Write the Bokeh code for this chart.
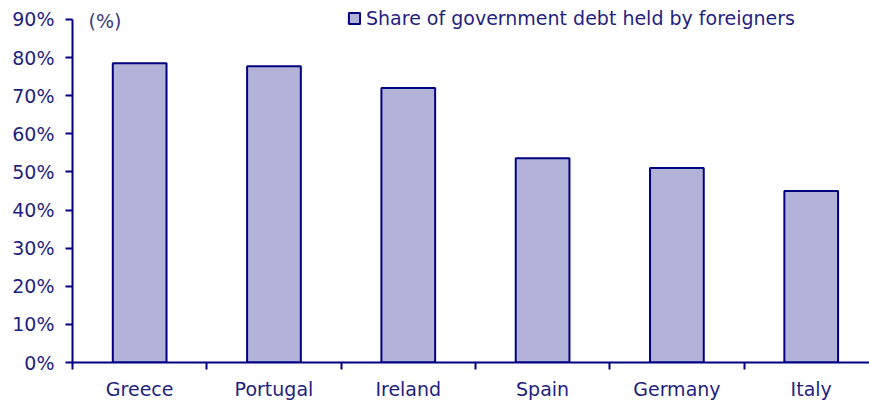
from bokeh.plotting import figure
from bokeh.models import (ColumnDataSource, Range1d, FixedTicker, PrintfTickFormatter,
                          Legend, LegendItem, Label)
from bokeh.embed import file_html
from bokeh.resources import INLINE

countries = ["Greece", "Portugal", "Ireland", "Spain", "Germany", "Italy"]
share = [78.5, 77.7, 72.0, 53.6, 51.0, 45.0]
y_ticks = [0, 10, 20, 30, 40, 50, 60, 70, 80, 90]
series_name = "Share of government debt held by foreigners"

NAVY = "#000080"
TEXT = "#1f1f7f"
FILL = "#b3b3d9"
FONT = "DejaVu Sans"
FS = "19px"

centers = [i + 0.5 for i in range(len(countries))]
src = ColumnDataSource(dict(x=centers, top=share, name=countries))

p = figure(width=869, height=402, output_backend="svg", toolbar_location=None,
           x_range=Range1d(0, 5.934), y_range=Range1d(0, 94.97),
           min_border_left=72, min_border_right=0, min_border_top=0, min_border_bottom=30)
p.outline_line_color = None
p.grid.grid_line_color = None
p.background_fill_color = "white"
p.border_fill_color = "white"

r = p.vbar(x="x", top="top", width=0.4, source=src, fill_color=FILL,
           line_color=NAVY, line_width=2)

# x axis: labels at centers, tick marks at category boundaries
xa = p.xaxis[0]
xa.ticker = FixedTicker(ticks=centers, minor_ticks=list(range(len(countries) + 1)))
xa.major_label_overrides = {c: n for c, n in zip(centers, countries)}
xa.major_tick_line_color = None
xa.minor_tick_line_color = NAVY
xa.minor_tick_line_width = 2
xa.minor_tick_out = 7
xa.minor_tick_in = 0
xa.major_tick_out = 7
xa.major_tick_in = 0
xa.major_label_standoff = 8
xa.axis_line_color = NAVY
xa.axis_line_width = 2
xa.major_label_text_color = TEXT
xa.major_label_text_font = FONT
xa.major_label_text_font_size = FS

ya = p.yaxis[0]
ya.ticker = FixedTicker(ticks=y_ticks, minor_ticks=[])
ya.formatter = PrintfTickFormatter(format="%d%%")
ya.bounds = (0, 90)
ya.major_tick_out = 7
ya.major_tick_in = 0
ya.major_tick_line_color = NAVY
ya.major_tick_line_width = 2
ya.minor_tick_line_color = None
ya.axis_line_color = NAVY
ya.axis_line_width = 2
ya.major_label_standoff = 11
ya.major_label_text_color = TEXT
ya.major_label_text_font = FONT
ya.major_label_text_font_size = FS

p.add_layout(Label(x=0.119, y=92.6, text="(%)", text_baseline="top", text_align="left",
                   text_font=FONT, text_font_size=FS, text_color="#3a3a80"))

legend = Legend(items=[LegendItem(label=series_name, renderers=[r])],
                location=(275, 333), glyph_width=14, glyph_height=14,
                label_standoff=5, padding=0, margin=0, spacing=0,
                border_line_color=None, background_fill_alpha=0,
                label_text_font=FONT, label_text_font_size=FS, label_text_color=TEXT)
p.add_layout(legend)

open("out.html", "w").write(file_html(p, INLINE))
